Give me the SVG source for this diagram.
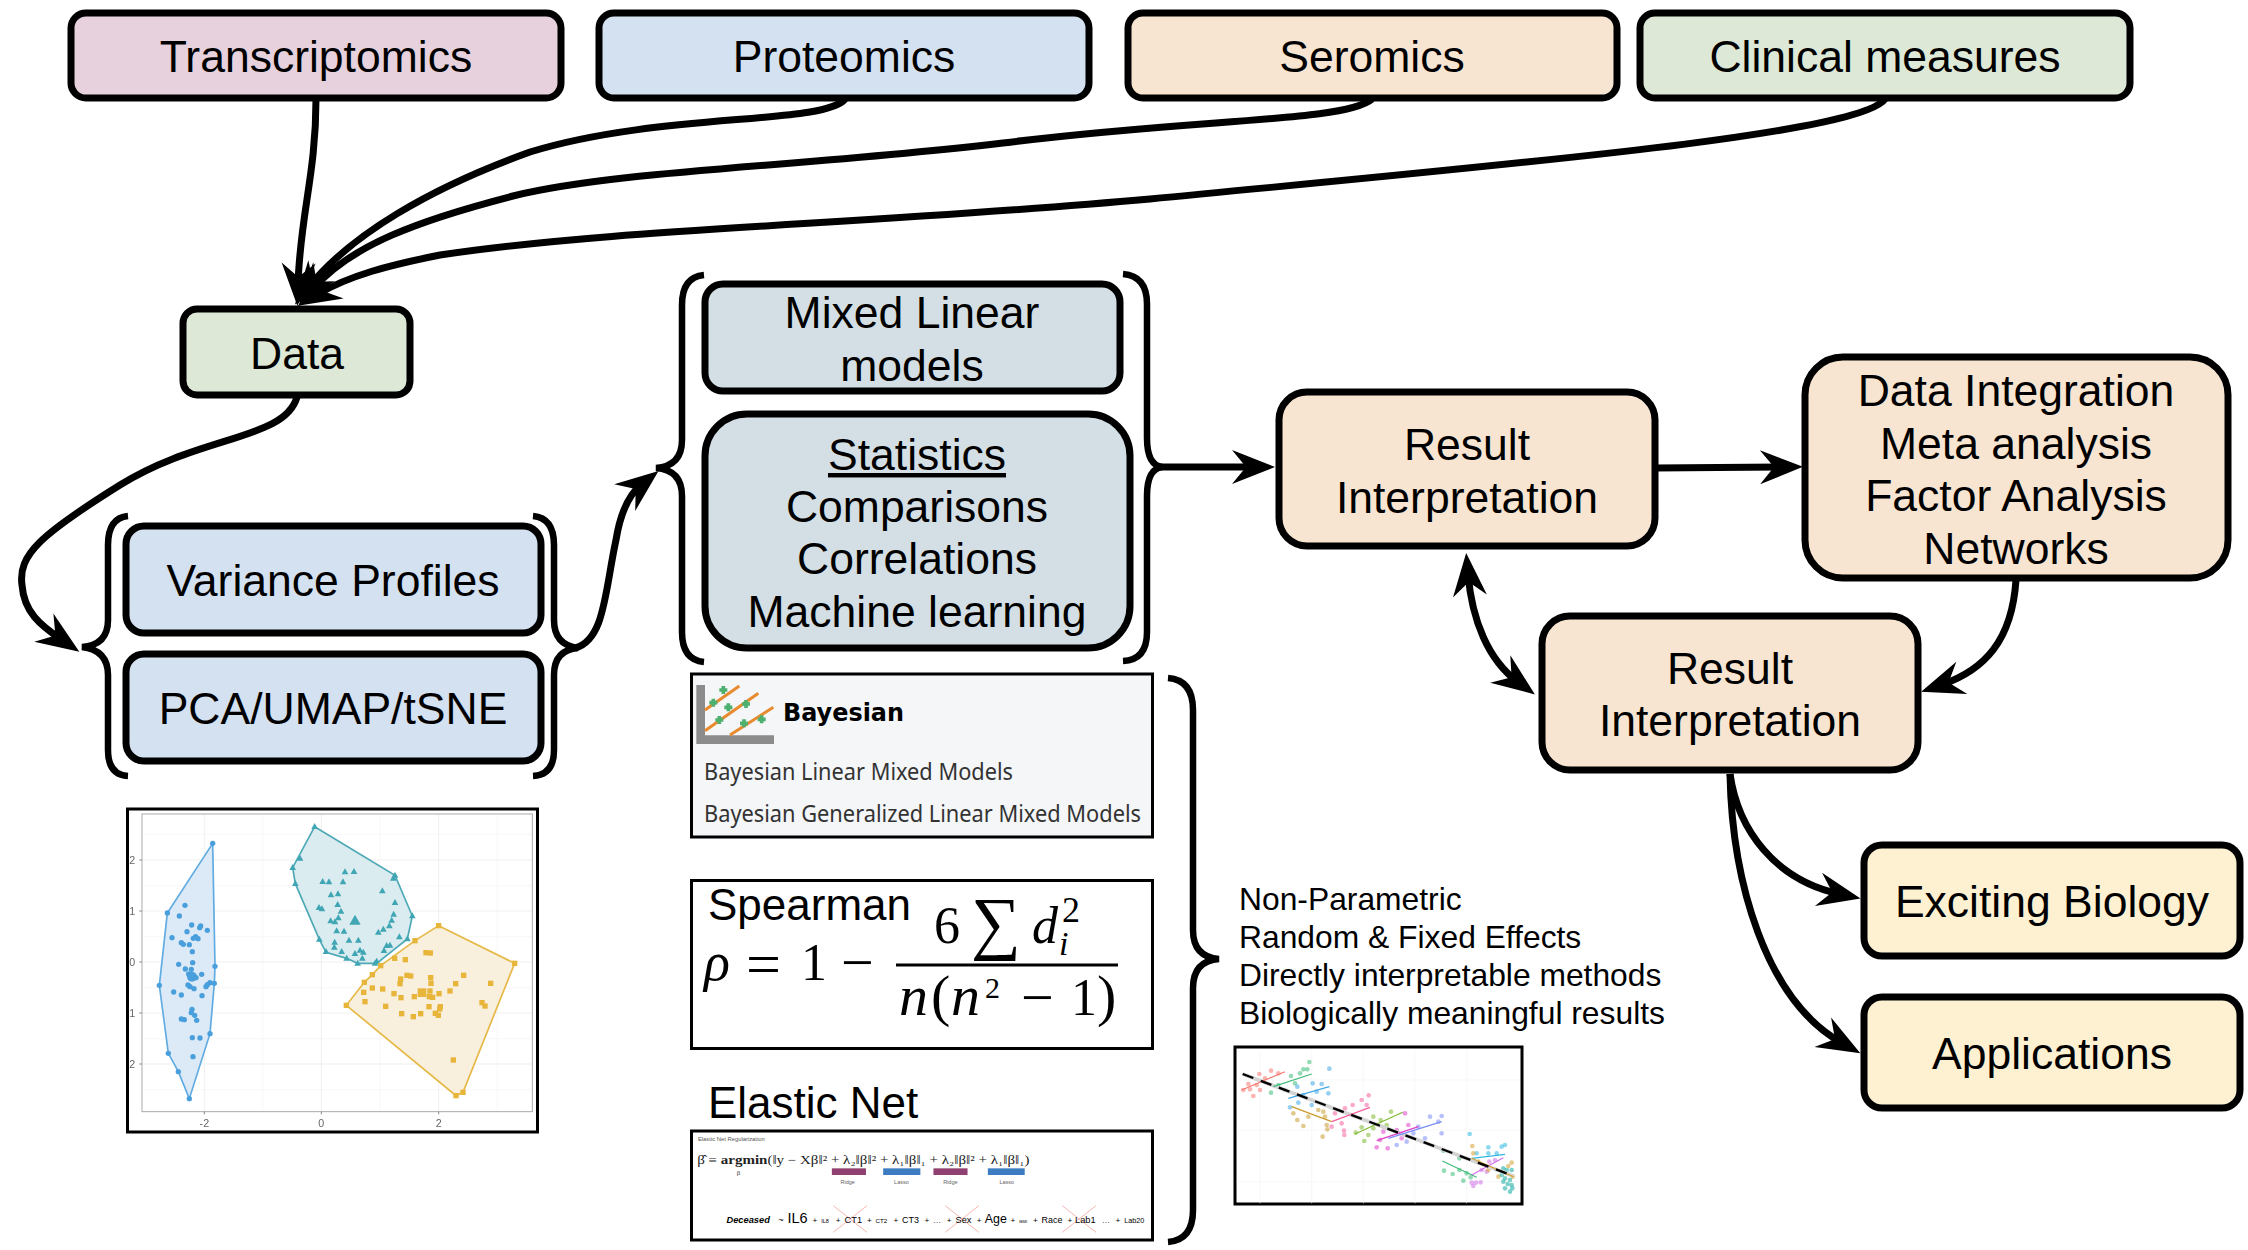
<svg xmlns="http://www.w3.org/2000/svg" xmlns:xlink="http://www.w3.org/1999/xlink" width="2248" height="1250" viewBox="0 0 2248 1250">
<style>
text{font-family:"Liberation Sans",Arial,sans-serif;fill:#000}
.n{stroke:#000;stroke-width:7}
.t{font-size:44.5px;text-anchor:middle}
.c{fill:none;stroke:#000;stroke-width:7;marker-end:url(#h)}
.b{fill:none;stroke:#000;stroke-width:6.5}
.f{fill:#fff;stroke:#000;stroke-width:3}
.m{font-family:"Liberation Serif",serif;font-size:52px}
.mi{font-family:"Liberation Serif",serif;font-size:58px;font-style:italic}
.gr{stroke:#ececec;stroke-width:2.5;fill:none}
.gm{stroke:#f4f4f4;stroke-width:2;fill:none}
.ax{font-size:32px;fill:#666;text-anchor:middle}
</style>
<defs>
<marker id="h" markerUnits="userSpaceOnUse" markerWidth="50" markerHeight="40" refX="22" refY="17" orient="auto" overflow="visible"><path d="M0 0L43 17L0 34L14 17Z" fill="#000"/></marker>
<marker id="hs" markerUnits="userSpaceOnUse" markerWidth="50" markerHeight="40" refX="22" refY="17" orient="auto-start-reverse" overflow="visible"><path d="M0 0L43 17L0 34L14 17Z" fill="#000"/></marker>
<filter id="soft" x="-5%" y="-5%" width="110%" height="110%"><feGaussianBlur stdDeviation="0.55"/></filter>
<circle id="cp" r="8" fill="#4a9fdc"/>
<path id="tp" d="M0-11L10 7H-10Z" fill="#3fa6b4"/>
<rect id="sp" x="-8" y="-8" width="16" height="16" fill="#e8b53a"/>
</defs>

<g id="connectors">
<path class="c" d="M316 99C316 175 300 215 298 285"/>
<path class="c" d="M845 99C825 125 660 112 530 152C430 188 350 235 308 288"/>
<path class="c" d="M1372 99C1345 122 1200 118 1003 143C800 167 620 170 513 196C420 220 350 245 312 290"/>
<path class="c" d="M1885 99C1860 135 1500 165 1150 199C860 225 620 228 440 255C390 265 350 275 316 295"/>
<path class="c" d="M297 397C285 440 200 435 120 485C40 535 18 555 22 585C24 612 40 625 62 640"/>
<path class="c" d="M575 648C605 640 605 590 616 540C620 515 628 495 642 484"/>
<path class="c" d="M1158 467L1254 467"/>
<path class="c" d="M1656 468L1782 467"/>
<path class="c" style="marker-start:url(#hs)" d="M1468 574C1472 620 1488 660 1518 682"/>
<path class="c" d="M2016 580C2012 640 1985 670 1941 685"/>
<path class="c" d="M1730 774C1738 830 1775 880 1840 894"/>
<path class="c" d="M1730 774C1732 880 1765 1000 1842 1043"/>
<path class="b" d="M128 516Q108 518 108 545L108 620Q108 645 82 647Q108 650 108 675L108 750Q108 775 128 776"/>
<path class="b" d="M533 516Q554 518 554 545L554 620Q554 645 578 648Q554 650 554 675L554 750Q554 775 533 776"/>
<path class="b" d="M704 275Q682 277 682 305L682 440Q682 466 656 468Q682 470 682 496L682 632Q682 660 704 662"/>
<path class="b" d="M1123 274Q1147 276 1147 304L1147 438Q1147 465 1162 467Q1147 469 1147 496L1147 632Q1147 660 1123 661"/>
<path class="b" d="M1168 678Q1193 680 1193 710L1193 930Q1193 957 1219 959Q1193 961 1193 988L1193 1210Q1193 1240 1168 1242"/>
</g>

<g id="transcriptomics"><rect class="n" x="71" y="13" width="490" height="85" rx="15" fill="#e6d1dc"/><text class="t" x="316" y="72">Transcriptomics</text></g>
<g id="proteomics"><rect class="n" x="599" y="13" width="490" height="85" rx="15" fill="#d4e1f1"/><text class="t" x="844" y="72">Proteomics</text></g>
<g id="seromics"><rect class="n" x="1128" y="13" width="489" height="85" rx="15" fill="#f7e5d2"/><text class="t" x="1372" y="72">Seromics</text></g>
<g id="clinical"><rect class="n" x="1640" y="13" width="490" height="85" rx="15" fill="#dde8d6"/><text class="t" x="1885" y="72">Clinical measures</text></g>
<g id="data"><rect class="n" x="183" y="309" width="227" height="86" rx="14" fill="#dde8d6"/><text class="t" x="297" y="369">Data</text></g>
<g id="variance"><rect class="n" x="126" y="526" width="415" height="107" rx="18" fill="#d4e1f1"/><text class="t" x="333" y="596">Variance Profiles</text></g>
<g id="pca"><rect class="n" x="126" y="654" width="415" height="107" rx="18" fill="#d4e1f1"/><text class="t" x="333" y="724">PCA/UMAP/tSNE</text></g>
<g id="mixed"><rect class="n" x="705" y="284" width="415" height="107" rx="18" fill="#d3dfe4"/><text class="t" x="912" y="328">Mixed Linear</text><text class="t" x="912" y="381">models</text></g>
<g id="statistics"><rect class="n" x="705" y="414" width="425" height="234" rx="42" fill="#d3dfe4"/><text class="t" x="917" y="470" text-decoration="underline">Statistics</text><text class="t" x="917" y="522">Comparisons</text><text class="t" x="917" y="574">Correlations</text><text class="t" x="917" y="627">Machine learning</text></g>
<g id="result1"><rect class="n" x="1279" y="392" width="376" height="154" rx="28" fill="#f7e5d2"/><text class="t" x="1467" y="460">Result</text><text class="t" x="1467" y="513">Interpretation</text></g>
<g id="integration"><rect class="n" x="1805" y="357" width="423" height="221" rx="38" fill="#f7e5d2"/><text class="t" x="2016" y="406">Data Integration</text><text class="t" x="2016" y="459">Meta analysis</text><text class="t" x="2016" y="511">Factor Analysis</text><text class="t" x="2016" y="564">Networks</text></g>
<g id="result2"><rect class="n" x="1542" y="616" width="376" height="154" rx="28" fill="#f7e5d2"/><text class="t" x="1730" y="684">Result</text><text class="t" x="1730" y="736">Interpretation</text></g>
<g id="exciting"><rect class="n" x="1864" y="845" width="376" height="111" rx="18" fill="#fdf1d2"/><text class="t" x="2052" y="917">Exciting Biology</text></g>
<g id="applications"><rect class="n" x="1864" y="997" width="376" height="111" rx="18" fill="#fdf1d2"/><text class="t" x="2052" y="1069">Applications</text></g>

<g id="plot-cluster">
<rect class="f" x="127.500" y="809" width="410" height="323"/>
<g transform="translate(110,790) scale(.33333)" filter="url(#soft)">
<g class="gm"><path d="M459 72V965M810 72V965M1162 72V965M96 133H1267M96 287H1267M96 440H1267M96 593H1267M96 746H1267M96 899H1267"/></g>
<g class="gr"><path d="M283 72V965M634 72V965M986 72V965M96 210H1267M96 363H1267M96 516H1267M96 669H1267M96 822H1267"/></g>
<rect x="96" y="72" width="1171" height="893" fill="none" stroke="#aaa" stroke-width="3"/>
<path d="M88 210H96M88 363H96M88 516H96M88 669H96M88 822H96M283 965V973M634 965V973M986 965V973" stroke="#888" stroke-width="3"/>
<text class="ax" x="67" y="222">2</text><text class="ax" x="67" y="375">1</text><text class="ax" x="67" y="528">0</text><text class="ax" x="67" y="681">1</text><text class="ax" x="67" y="834">2</text>
<text class="ax" x="283" y="1011">-2</text><text class="ax" x="634" y="1011">0</text><text class="ax" x="986" y="1011">2</text>
<path d="M308 160L172 369L148 586L175 790L205 845L238 926L300 731L313 580L315 529Z" fill="#dce9f6" stroke="#5fabe2" stroke-width="5"/>
<path d="M614 110L855 256L907 378L892 447L800 520L743 520L710 505L648 487L628 448L556 281L548 233Z" fill="#dbecf0" stroke="#4ea9b6" stroke-width="5"/>
<path d="M986 407L1214 520L1059 907L1038 917L709 646L763 577L787 554L812 527L915 452Z" fill="#f8efdc" stroke="#e6b844" stroke-width="5"/>
<g id="pts-c"><use href="#cp" x="308" y="160"/><use href="#cp" x="225" y="346"/><use href="#cp" x="172" y="369"/><use href="#cp" x="208" y="378"/><use href="#cp" x="245" y="405"/><use href="#cp" x="272" y="408"/><use href="#cp" x="269" y="413"/><use href="#cp" x="292" y="421"/><use href="#cp" x="231" y="425"/><use href="#cp" x="186" y="443"/><use href="#cp" x="257" y="440"/><use href="#cp" x="250" y="445"/><use href="#cp" x="264" y="446"/><use href="#cp" x="214" y="458"/><use href="#cp" x="220" y="463"/><use href="#cp" x="238" y="464"/><use href="#cp" x="247" y="485"/><use href="#cp" x="206" y="523"/><use href="#cp" x="248" y="518"/><use href="#cp" x="315" y="529"/><use href="#cp" x="226" y="537"/><use href="#cp" x="244" y="538"/><use href="#cp" x="275" y="553"/><use href="#cp" x="258" y="563"/><use href="#cp" x="236" y="552"/><use href="#cp" x="300" y="578"/><use href="#cp" x="313" y="580"/><use href="#cp" x="234" y="585"/><use href="#cp" x="240" y="590"/><use href="#cp" x="292" y="584"/><use href="#cp" x="288" y="590"/><use href="#cp" x="252" y="596"/><use href="#cp" x="148" y="586"/><use href="#cp" x="191" y="606"/><use href="#cp" x="214" y="615"/><use href="#cp" x="276" y="617"/><use href="#cp" x="246" y="658"/><use href="#cp" x="244" y="668"/><use href="#cp" x="254" y="676"/><use href="#cp" x="214" y="687"/><use href="#cp" x="223" y="689"/><use href="#cp" x="260" y="691"/><use href="#cp" x="247" y="743"/><use href="#cp" x="270" y="744"/><use href="#cp" x="300" y="731"/><use href="#cp" x="175" y="790"/><use href="#cp" x="249" y="800"/><use href="#cp" x="205" y="845"/><use href="#cp" x="238" y="926"/><circle cx="246" cy="560" r="15" fill="#4a9fdc"/></g>
<g id="pts-t"><use href="#tp" x="570" y="205"/><use href="#tp" x="548" y="233"/><use href="#tp" x="556" y="281"/><use href="#tp" x="614" y="110"/><use href="#tp" x="705" y="246"/><use href="#tp" x="732" y="245"/><use href="#tp" x="638" y="275"/><use href="#tp" x="657" y="276"/><use href="#tp" x="699" y="276"/><use href="#tp" x="855" y="256"/><use href="#tp" x="850" y="265"/><use href="#tp" x="663" y="315"/><use href="#tp" x="684" y="312"/><use href="#tp" x="817" y="303"/><use href="#tp" x="855" y="338"/><use href="#tp" x="683" y="344"/><use href="#tp" x="627" y="353"/><use href="#tp" x="636" y="357"/><use href="#tp" x="693" y="364"/><use href="#tp" x="851" y="373"/><use href="#tp" x="907" y="378"/><use href="#tp" x="845" y="391"/><use href="#tp" x="685" y="384"/><use href="#tp" x="662" y="393"/><use href="#tp" x="675" y="396"/><use href="#tp" x="838" y="408"/><use href="#tp" x="820" y="418"/><use href="#tp" x="805" y="427"/><use href="#tp" x="680" y="423"/><use href="#tp" x="702" y="424"/><use href="#tp" x="868" y="441"/><use href="#tp" x="892" y="447"/><use href="#tp" x="717" y="451"/><use href="#tp" x="745" y="451"/><use href="#tp" x="628" y="448"/><use href="#tp" x="674" y="457"/><use href="#tp" x="673" y="472"/><use href="#tp" x="695" y="485"/><use href="#tp" x="648" y="485"/><use href="#tp" x="735" y="491"/><use href="#tp" x="750" y="481"/><use href="#tp" x="760" y="487"/><use href="#tp" x="757" y="505"/><use href="#tp" x="710" y="505"/><use href="#tp" x="830" y="467"/><use href="#tp" x="840" y="466"/><use href="#tp" x="822" y="482"/><use href="#tp" x="800" y="514"/><use href="#tp" x="795" y="520"/><use href="#tp" x="743" y="520"/><path d="M735 374L752 404H718Z" fill="#3fa6b4"/></g>
<g id="pts-s"><use href="#sp" x="915" y="452"/><use href="#sp" x="986" y="407"/><use href="#sp" x="1214" y="520"/><use href="#sp" x="948" y="488"/><use href="#sp" x="961" y="489"/><use href="#sp" x="854" y="505"/><use href="#sp" x="886" y="509"/><use href="#sp" x="812" y="527"/><use href="#sp" x="787" y="554"/><use href="#sp" x="891" y="556"/><use href="#sp" x="902" y="558"/><use href="#sp" x="872" y="567"/><use href="#sp" x="870" y="581"/><use href="#sp" x="962" y="563"/><use href="#sp" x="963" y="580"/><use href="#sp" x="1061" y="556"/><use href="#sp" x="1037" y="581"/><use href="#sp" x="1142" y="580"/><use href="#sp" x="763" y="577"/><use href="#sp" x="761" y="607"/><use href="#sp" x="787" y="594"/><use href="#sp" x="818" y="597"/><use href="#sp" x="852" y="611"/><use href="#sp" x="873" y="623"/><use href="#sp" x="913" y="620"/><use href="#sp" x="960" y="603"/><use href="#sp" x="987" y="611"/><use href="#sp" x="1020" y="603"/><use href="#sp" x="958" y="620"/><use href="#sp" x="968" y="622"/><use href="#sp" x="765" y="635"/><use href="#sp" x="827" y="649"/><use href="#sp" x="709" y="646"/><use href="#sp" x="957" y="650"/><use href="#sp" x="991" y="650"/><use href="#sp" x="989" y="657"/><use href="#sp" x="875" y="671"/><use href="#sp" x="910" y="680"/><use href="#sp" x="932" y="671"/><use href="#sp" x="976" y="670"/><use href="#sp" x="985" y="676"/><use href="#sp" x="1116" y="638"/><use href="#sp" x="1125" y="648"/><use href="#sp" x="1030" y="810"/><use href="#sp" x="1038" y="917"/><use href="#sp" x="1059" y="907"/><rect x="923" y="595" width="26" height="26" fill="#e8b53a"/></g>
</g>
</g>

<g id="bayesian">
<rect x="691.500" y="674" width="461" height="163" fill="#f4f6f8" stroke="#000" stroke-width="3"/>
<g transform="translate(680,660) scale(.33333)">
<path d="M62 75V239H282" fill="none" stroke="#8c8c8c" stroke-width="26"/>
<path d="M75 150L178 78M75 212L235 100M150 225L280 142" stroke="#e88a2e" stroke-width="9" fill="none"/>
<path d="M130 78V102M118 90H142M100 116V140M88 128H112M145 130V154M133 142H157M198 120V144M186 132H210M118 168V192M106 180H130M192 178V202M180 190H204M245 166V190M233 178H257" stroke="#4eb06e" stroke-width="11" fill="none"/>
</g>
<text x="783" y="721" style="font-family:'DejaVu Sans',sans-serif;font-weight:bold;font-size:25px" textLength="121" lengthAdjust="spacingAndGlyphs">Bayesian</text>
<text x="704" y="780" style="font-family:'Noto Sans',sans-serif;font-size:24px;fill:#333" textLength="309" lengthAdjust="spacingAndGlyphs">Bayesian Linear Mixed Models</text>
<text x="704" y="822" style="font-family:'Noto Sans',sans-serif;font-size:24px;fill:#333" textLength="437" lengthAdjust="spacingAndGlyphs">Bayesian Generalized Linear Mixed Models</text>
</g>

<g id="spearman">
<rect class="f" x="691.500" y="880.500" width="461" height="168"/>
<text x="708" y="920" style="font-size:44px">Spearman</text>
<text class="mi" x="704" y="980" style="font-size:54px">ρ</text>
<text class="m" x="746" y="985" style="font-size:62px">=</text>
<text class="m" x="801" y="980">1</text>
<text class="m" x="841" y="982" style="font-size:58px">−</text>
<path d="M896 965H1118" stroke="#000" stroke-width="3"/>
<text class="m" x="934" y="943">6</text>
<text class="m" x="971" y="946" style="font-size:70px">∑</text>
<text class="mi" x="1032" y="943" style="font-size:52px">d</text>
<text class="m" x="1062" y="922" style="font-size:36px">2</text>
<text class="mi" x="1059" y="955" style="font-size:34px">i</text>
<text class="mi" x="899" y="1015">n</text>
<text class="m" x="931" y="1015" style="font-size:58px">(</text>
<text class="mi" x="951" y="1015">n</text>
<text class="m" x="985" y="998" style="font-size:30px">2</text>
<text class="m" x="1021" y="1017" style="font-size:58px">−</text>
<text class="m" x="1071" y="1015">1</text>
<text class="m" x="1097" y="1015" style="font-size:58px">)</text>
</g>

<g id="elastic">
<text x="708" y="1118" style="font-size:44px">Elastic Net</text>
<rect class="f" x="691.500" y="1131" width="461" height="109"/>
<g transform="translate(680,1060) scale(.34436,.33333)">
<text x="52" y="243" style="font-size:17px;fill:#555">Elastic Net Regularization</text>
<text x="50" y="312" style="font-family:'Liberation Serif',serif;font-size:36px;fill:#222" textLength="965" lengthAdjust="spacingAndGlyphs">β̂ ≡ <tspan font-weight="bold">argmin</tspan>(‖y − Xβ‖² + λ₂‖β‖² + λ₁‖β‖₁ + λ₂‖β‖² + λ₁‖β‖₁)</text>
<text x="165" y="345" style="font-family:'Liberation Serif',serif;font-size:20px;fill:#444">β</text>
<g><rect x="441" y="325" width="99" height="20" fill="#8f3f70"/><rect x="590" y="325" width="108" height="20" fill="#3d7cc0"/><rect x="736" y="325" width="99" height="20" fill="#8f3f70"/><rect x="894" y="325" width="107" height="20" fill="#3d7cc0"/></g>
<g><text x="487" y="373" style="fill:#666;text-anchor:middle;font-size:16px">Ridge</text><text x="643" y="373" style="fill:#666;text-anchor:middle;font-size:16px">Lasso</text><text x="785" y="373" style="fill:#666;text-anchor:middle;font-size:16px">Ridge</text><text x="949" y="373" style="fill:#666;text-anchor:middle;font-size:16px">Lasso</text></g>
<path d="M445 437L543 517M543 437L445 517M770 437L868 517M868 437L770 517M1110 437L1208 517M1208 437L1110 517" stroke="#f2aaa2" stroke-width="2.500" fill="none"/>
<g>
<text x="135" y="490" style="font-size:27px;font-weight:bold;font-style:italic">Deceased</text><text x="285" y="490" style="font-size:27px">~</text><text x="312" y="490" style="font-size:42px">IL6</text>
<text x="385" y="490" style="font-size:24px">+</text><text x="410" y="490" style="font-size:16px">IL8</text><text x="452" y="490" style="font-size:24px">+</text><text x="478" y="490" style="font-size:27px">CT1</text>
<text x="543" y="490" style="font-size:24px">+</text><text x="568" y="490" style="font-size:18px">CT2</text><text x="620" y="490" style="font-size:24px">+</text><text x="645" y="490" style="font-size:26px">CT3</text>
<text x="710" y="490" style="font-size:24px">+</text><text x="735" y="490" style="font-size:24px">…</text><text x="775" y="490" style="font-size:24px">+</text><text x="800" y="490" style="font-size:27px">Sex</text>
<text x="862" y="490" style="font-size:24px">+</text><text x="885" y="490" style="font-size:36px">Age</text><text x="960" y="490" style="font-size:24px">+</text><text x="985" y="490" style="font-size:13px">BMI</text>
<text x="1025" y="490" style="font-size:24px">+</text><text x="1050" y="490" style="font-size:26px">Race</text><text x="1125" y="490" style="font-size:24px">+</text><text x="1147" y="490" style="font-size:27px">Lab1</text>
<text x="1225" y="490" style="font-size:24px">…</text><text x="1265" y="490" style="font-size:24px">+</text><text x="1290" y="490" style="font-size:21px">Lab20</text>
</g>
</g>
</g>

<g id="notes">
<text x="1239" y="910" style="font-size:31.8px">Non-Parametric</text>
<text x="1239" y="948" style="font-size:31.8px">Random &amp; Fixed Effects</text>
<text x="1239" y="986" style="font-size:31.8px">Directly interpretable methods</text>
<text x="1239" y="1024" style="font-size:31.8px">Biologically meaningful results</text>
</g>

<g id="regression-plot">
<rect class="f" x="1235" y="1047" width="287" height="157"/>
<g transform="translate(1210,860) scale(.33333)" filter="url(#soft)">
<path d="M150 570V1030M305 570V1030M460 570V1030M615 570V1030M770 570V1030M80 660H930M80 810H930M80 965H930" stroke="#f5f5f5" stroke-width="2" fill="none"/>
<g fill-opacity=".55">
<g fill="#f8766d"><circle cx="100" cy="690" r="7"/><circle cx="115" cy="672" r="7"/><circle cx="130" cy="708" r="7"/><circle cx="148" cy="642" r="7"/><circle cx="150" cy="690" r="7"/><circle cx="183" cy="632" r="7"/><circle cx="120" cy="688" r="7"/><circle cx="165" cy="655" r="7"/><circle cx="205" cy="640" r="7"/><circle cx="140" cy="675" r="7"/></g>
<g fill="#3dbb78"><circle cx="298" cy="606" r="7"/><circle cx="280" cy="628" r="7"/><circle cx="292" cy="628" r="7"/><circle cx="270" cy="640" r="7"/><circle cx="243" cy="648" r="7"/><circle cx="205" cy="675" r="7"/><circle cx="183" cy="698" r="7"/><circle cx="225" cy="690" r="7"/><circle cx="255" cy="670" r="7"/></g>
<g fill="#40a8e8"><circle cx="358" cy="626" r="7"/><circle cx="308" cy="670" r="7"/><circle cx="335" cy="672" r="7"/><circle cx="262" cy="680" r="7"/><circle cx="320" cy="695" r="7"/><circle cx="355" cy="700" r="7"/><circle cx="280" cy="705" r="7"/><circle cx="240" cy="742" r="7"/><circle cx="265" cy="728" r="7"/><circle cx="305" cy="735" r="7"/></g>
<g fill="#c99a2e"><circle cx="250" cy="760" r="7"/><circle cx="262" cy="780" r="7"/><circle cx="280" cy="798" r="7"/><circle cx="295" cy="770" r="7"/><circle cx="325" cy="750" r="7"/><circle cx="340" cy="755" r="7"/><circle cx="350" cy="795" r="7"/><circle cx="338" cy="830" r="7"/><circle cx="352" cy="808" r="7"/><circle cx="345" cy="770" r="7"/></g>
<g fill="#f5609f"><circle cx="476" cy="706" r="7"/><circle cx="455" cy="720" r="7"/><circle cx="428" cy="735" r="7"/><circle cx="405" cy="745" r="7"/><circle cx="375" cy="760" r="7"/><circle cx="395" cy="790" r="7"/><circle cx="402" cy="812" r="7"/><circle cx="403" cy="825" r="7"/><circle cx="470" cy="735" r="7"/><circle cx="365" cy="800" r="7"/></g>
<g fill="#7cb82f"><circle cx="543" cy="755" r="7"/><circle cx="490" cy="770" r="7"/><circle cx="512" cy="780" r="7"/><circle cx="455" cy="802" r="7"/><circle cx="437" cy="818" r="7"/><circle cx="475" cy="825" r="7"/><circle cx="463" cy="843" r="7"/><circle cx="490" cy="805" r="7"/><circle cx="530" cy="795" r="7"/></g>
<g fill="#e040c8"><circle cx="585" cy="760" r="7"/><circle cx="595" cy="795" r="7"/><circle cx="560" cy="810" r="7"/><circle cx="520" cy="815" r="7"/><circle cx="500" cy="862" r="7"/><circle cx="533" cy="865" r="7"/><circle cx="510" cy="840" r="7"/><circle cx="575" cy="835" r="7"/></g>
<g fill="#7a8cf5"><circle cx="660" cy="770" r="7"/><circle cx="695" cy="768" r="7"/><circle cx="685" cy="785" r="7"/><circle cx="695" cy="820" r="7"/><circle cx="645" cy="835" r="7"/><circle cx="610" cy="820" r="7"/><circle cx="590" cy="845" r="7"/><circle cx="560" cy="855" r="7"/><circle cx="625" cy="800" r="7"/></g>
<g fill="#3dbb78"><circle cx="700" cy="872" r="7"/><circle cx="702" cy="932" r="7"/><circle cx="728" cy="942" r="7"/><circle cx="748" cy="895" r="7"/><circle cx="748" cy="930" r="7"/><circle cx="760" cy="962" r="7"/><circle cx="770" cy="940" r="7"/><circle cx="782" cy="952" r="7"/></g>
<g fill="#d070e8"><circle cx="785" cy="968" r="7"/><circle cx="798" cy="968" r="7"/><circle cx="812" cy="967" r="7"/><circle cx="790" cy="978" r="7"/><circle cx="815" cy="930" r="7"/><circle cx="838" cy="905" r="7"/><circle cx="855" cy="900" r="7"/><circle cx="830" cy="935" r="7"/></g>
<g fill="#30b8e0"><circle cx="779" cy="822" r="7"/><circle cx="835" cy="862" r="7"/><circle cx="835" cy="880" r="7"/><circle cx="885" cy="855" r="7"/><circle cx="875" cy="860" r="7"/><circle cx="800" cy="880" r="7"/><circle cx="860" cy="880" r="7"/></g>
<g fill="#d4a030"><circle cx="787" cy="858" r="7"/><circle cx="790" cy="880" r="7"/><circle cx="805" cy="905" r="7"/><circle cx="835" cy="930" r="7"/><circle cx="905" cy="908" r="7"/><circle cx="895" cy="918" r="7"/><circle cx="908" cy="950" r="7"/><circle cx="865" cy="950" r="7"/></g>
<g fill="#18aaa0"><circle cx="880" cy="925" r="7"/><circle cx="890" cy="930" r="7"/><circle cx="905" cy="930" r="7"/><circle cx="875" cy="945" r="7"/><circle cx="885" cy="955" r="7"/><circle cx="900" cy="960" r="7"/><circle cx="880" cy="965" r="7"/><circle cx="893" cy="972" r="7"/><circle cx="905" cy="975" r="7"/><circle cx="885" cy="985" r="7"/><circle cx="900" cy="995" r="7"/><circle cx="907" cy="985" r="7"/></g>
</g>
<path d="M98 642L910 948" stroke="#d4d4d4" stroke-width="11" fill="none"/>
<g fill="none" stroke-width="3.500">
<path d="M95 690L225 635" stroke="#f8766d"/><path d="M190 680L305 642" stroke="#3dbb78"/><path d="M235 715L358 680" stroke="#40a8e8"/><path d="M245 740L365 785" stroke="#c99a2e"/><path d="M365 785L480 742" stroke="#f5609f"/><path d="M435 822L578 757" stroke="#7cb82f"/><path d="M500 842L625 800" stroke="#e040c8"/><path d="M535 835L695 785" stroke="#7a8cf5"/><path d="M697 903L800 952" stroke="#3dbb78"/><path d="M785 945L880 893" stroke="#d070e8"/><path d="M785 895L885 883" stroke="#30b8e0"/><path d="M785 895L910 950" stroke="#d4a030"/>
</g>
<path d="M98 642L910 948" stroke="#000" stroke-width="7" stroke-dasharray="34 24" fill="none"/>
</g>
</g>
</svg>
